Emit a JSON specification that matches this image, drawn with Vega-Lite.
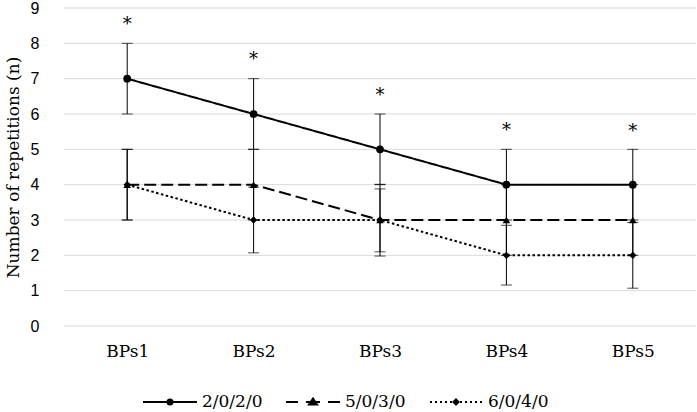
{
  "$schema": "https://vega.github.io/schema/vega-lite/v6.json",
  "width": 632,
  "height": 318,
  "autosize": {"type": "none"},
  "padding": {"left": 64, "top": 8, "right": 1, "bottom": 86},
  "background": "white",
  "config": {
    "view": {"stroke": null},
    "axis": {"labelColor": "#000", "titleColor": "#000"},
    "axisY": {
      "grid": false,
      "domain": false,
      "ticks": false,
      "labelOverlap": false,
      "labelPadding": 25,
      "labelFont": "Liberation Sans",
      "labelFontSize": 16,
      "titleFont": "DejaVu Serif",
      "titleFontSize": 17,
      "titleFontWeight": "normal",
      "titlePadding": 8
    }
  },
  "datasets": {
    "main": [
      {"series": "2/0/2/0", "cat": "BPs1", "mean": 7, "lo": 6, "hi": 8},
      {"series": "2/0/2/0", "cat": "BPs2", "mean": 6, "lo": 5, "hi": 7},
      {"series": "2/0/2/0", "cat": "BPs3", "mean": 5, "lo": 4, "hi": 6},
      {"series": "2/0/2/0", "cat": "BPs4", "mean": 4, "lo": 3, "hi": 5},
      {"series": "2/0/2/0", "cat": "BPs5", "mean": 4, "lo": 3, "hi": 5},
      {"series": "5/0/3/0", "cat": "BPs1", "mean": 4, "lo": 3, "hi": 5},
      {"series": "5/0/3/0", "cat": "BPs2", "mean": 4, "lo": 3, "hi": 5},
      {"series": "5/0/3/0", "cat": "BPs3", "mean": 3, "lo": 2.1, "hi": 3.88},
      {"series": "5/0/3/0", "cat": "BPs4", "mean": 3, "lo": 2, "hi": 4},
      {"series": "5/0/3/0", "cat": "BPs5", "mean": 3, "lo": 2, "hi": 4},
      {"series": "6/0/4/0", "cat": "BPs1", "mean": 4, "lo": 3, "hi": 5},
      {"series": "6/0/4/0", "cat": "BPs2", "mean": 3, "lo": 2.07, "hi": 3.93},
      {"series": "6/0/4/0", "cat": "BPs3", "mean": 3, "lo": 1.98, "hi": 4.01},
      {"series": "6/0/4/0", "cat": "BPs4", "mean": 2, "lo": 1.16, "hi": 2.85},
      {"series": "6/0/4/0", "cat": "BPs5", "mean": 2, "lo": 1.07, "hi": 2.93}
    ],
    "stars": [
      {"cat": "BPs1", "y": 8.6, "label": "*"},
      {"cat": "BPs2", "y": 7.62, "label": "*"},
      {"cat": "BPs3", "y": 6.6, "label": "*"},
      {"cat": "BPs4", "y": 5.6, "label": "*"},
      {"cat": "BPs5", "y": 5.58, "label": "*"}
    ],
    "grid": [
      {"v": 0}, {"v": 1}, {"v": 2}, {"v": 3}, {"v": 4},
      {"v": 5}, {"v": 6}, {"v": 7}, {"v": 8}, {"v": 9}
    ]
  },
  "encoding": {
    "x": {
      "field": "cat",
      "type": "nominal",
      "sort": null,
      "scale": {"type": "point", "padding": 0.5},
      "axis": {
        "title": null,
        "labelAngle": 0,
        "domain": false,
        "ticks": false,
        "grid": false,
        "labelPadding": 17,
        "labelFont": "DejaVu Serif",
        "labelFontSize": 17
      }
    }
  },
  "layer": [
    {
      "data": {"name": "grid"},
      "mark": {"type": "rule", "color": "#d9d9d9", "strokeWidth": 1},
      "encoding": {
        "x": {"value": 0},
        "x2": {"value": 632},
        "y": {
          "field": "v",
          "type": "quantitative",
          "title": "Number of repetitions (n)",
          "scale": {"domain": [0, 9], "nice": false, "zero": true},
          "axis": {"values": [0, 1, 2, 3, 4, 5, 6, 7, 8, 9]}
        }
      }
    },
    {
      "data": {"name": "main"},
      "mark": {"type": "rule", "color": "#000", "strokeWidth": 1},
      "encoding": {
        "y": {"field": "lo", "type": "quantitative", "title": "Number of repetitions (n)", "axis": {"values": [0, 1, 2, 3, 4, 5, 6, 7, 8, 9]}},
        "y2": {"field": "hi"}
      }
    },
    {
      "data": {"name": "main"},
      "mark": {"type": "tick", "color": "#000", "size": 11, "thickness": 1},
      "encoding": {
        "y": {"field": "lo", "type": "quantitative", "title": "Number of repetitions (n)", "axis": {"values": [0, 1, 2, 3, 4, 5, 6, 7, 8, 9]}}
      }
    },
    {
      "data": {"name": "main"},
      "mark": {"type": "tick", "color": "#000", "size": 11, "thickness": 1},
      "encoding": {
        "y": {"field": "hi", "type": "quantitative", "title": "Number of repetitions (n)", "axis": {"values": [0, 1, 2, 3, 4, 5, 6, 7, 8, 9]}}
      }
    },
    {
      "data": {"name": "main"},
      "mark": {"type": "line", "color": "#000"},
      "encoding": {
        "y": {"field": "mean", "type": "quantitative", "title": "Number of repetitions (n)", "axis": {"values": [0, 1, 2, 3, 4, 5, 6, 7, 8, 9]}},
        "detail": {"field": "series"},
        "strokeDash": {
          "field": "series",
          "type": "nominal",
          "scale": {"domain": ["2/0/2/0", "5/0/3/0", "6/0/4/0"], "range": [[1, 0], [12, 5], [2.5, 2.5]]},
          "legend": null
        },
        "strokeWidth": {
          "field": "series",
          "type": "nominal",
          "scale": {"domain": ["2/0/2/0", "5/0/3/0", "6/0/4/0"], "range": [2, 2, 2.5]},
          "legend": null
        }
      }
    },
    {
      "data": {"name": "main"},
      "mark": {"type": "point", "filled": true, "color": "#000", "opacity": 1},
      "encoding": {
        "y": {"field": "mean", "type": "quantitative", "title": "Number of repetitions (n)", "axis": {"values": [0, 1, 2, 3, 4, 5, 6, 7, 8, 9]}},
        "shape": {
          "field": "series",
          "type": "nominal",
          "scale": {"domain": ["2/0/2/0", "5/0/3/0", "6/0/4/0"], "range": ["circle", "triangle-up", "diamond"]},
          "legend": null
        },
        "size": {
          "field": "series",
          "type": "nominal",
          "scale": {"domain": ["2/0/2/0", "5/0/3/0", "6/0/4/0"], "range": [60, 55, 25]},
          "legend": null
        }
      }
    },
    {
      "data": {"name": "main"},
      "mark": {"type": "point", "filled": false, "color": "#000", "strokeWidth": 2, "opacity": 0, "size": 2916},
      "encoding": {
        "y": {"field": "mean", "type": "quantitative", "title": "Number of repetitions (n)", "axis": {"values": [0, 1, 2, 3, 4, 5, 6, 7, 8, 9]}},
        "shape": {
          "field": "series",
          "type": "nominal",
          "scale": {
            "domain": ["2/0/2/0", "5/0/3/0", "6/0/4/0"],
            "range": [
              "M-1,0H1M-0.093,0A0.093,0.093,0,1,1,0.093,0A0.093,0.093,0,1,1,-0.093,0ZM-0.03,0A0.03,0.03,0,1,1,0.03,0A0.03,0.03,0,1,1,-0.03,0Z",
              "M-1,0H-0.556M-0.26,0H0.26M0.556,0H1M0,-0.13L0.148,0.093L-0.148,0.093ZM0,-0.037L0.056,0.056L-0.056,0.056Z",
              "M-0.963,0H-0.889M-0.778,0H-0.704M-0.593,0H-0.519M-0.407,0H-0.333M-0.222,0H-0.148M0.148,0H0.222M0.333,0H0.407M0.519,0H0.593M0.704,0H0.778M0.889,0H0.963M0,-0.093L0.093,0L0,0.093L-0.093,0ZM0,-0.03L0.03,0L0,0.03L-0.03,0Z"
            ]
          },
          "legend": {
            "title": null,
            "orient": "none",
            "legendX": 78,
            "legendY": 366,
            "direction": "horizontal",
            "columns": 3,
            "columnPadding": 19,
            "symbolSize": 2916,
            "symbolOpacity": 1,
            "symbolStrokeColor": "#000",
            "symbolStrokeWidth": 2,
            "labelOffset": 4,
            "labelFont": "DejaVu Serif",
            "labelFontSize": 17,
            "labelColor": "#000"
          }
        }
      }
    },
    {
      "data": {"name": "stars"},
      "mark": {"type": "text", "font": "DejaVu Serif", "fontSize": 18, "color": "#000", "baseline": "middle", "dy": 3},
      "encoding": {
        "y": {"field": "y", "type": "quantitative", "title": "Number of repetitions (n)", "axis": {"values": [0, 1, 2, 3, 4, 5, 6, 7, 8, 9]}},
        "text": {"field": "label"}
      }
    }
  ],
  "resolve": {"scale": {"shape": "independent", "size": "independent"}}
}
